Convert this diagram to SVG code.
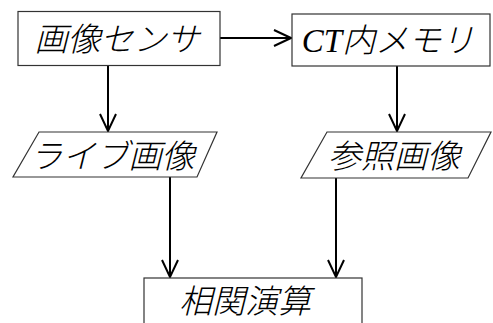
<svg xmlns="http://www.w3.org/2000/svg" width="493" height="323" viewBox="0 0 493 323">
<style>
.box{fill:#fff;stroke:#333;stroke-width:1.2}
.lbl{font-family:"Liberation Serif","Noto Sans CJK JP",serif;font-style:italic;font-weight:300;font-size:33px;fill:#000;text-anchor:middle}
.conn{fill:none;stroke:#000;stroke-width:2}
</style>
<defs>
<marker id="ah" markerUnits="userSpaceOnUse" viewBox="-18 -9 20 18" refX="0" refY="0" markerWidth="20" markerHeight="18" orient="auto">
<path d="M-17,-8 L0,0 L-17,8" fill="none" stroke="#000" stroke-width="2"/>
</marker>
</defs>
<rect width="493" height="323" fill="#fff"/>
<g id="connectors">
<line class="conn" x1="220" y1="38" x2="291" y2="38" marker-end="url(#ah)"/>
<line class="conn" x1="108" y1="66" x2="108" y2="131" marker-end="url(#ah)"/>
<line class="conn" x1="397" y1="66" x2="397" y2="131" marker-end="url(#ah)"/>
<line class="conn" x1="170" y1="177" x2="170" y2="277" marker-end="url(#ah)"/>
<line class="conn" x1="336" y1="178" x2="336" y2="277" marker-end="url(#ah)"/>
</g>
<g id="sensor">
<rect class="box" x="18" y="11.5" width="202" height="54"/>
<text class="lbl" x="117" y="51">画像センサ</text>
</g>
<g id="memory">
<rect class="box" x="292" y="14" width="198" height="52"/>
<text class="lbl" x="388" y="52">CT内メモリ</text>
</g>
<g id="live">
<polygon class="box" points="39,132 217,132 197,177 13,177"/>
<text class="lbl" x="112" y="168">ライブ画像</text>
</g>
<g id="ref">
<polygon class="box" points="327,132 491,132 468,178 301,178"/>
<text class="lbl" x="394" y="168">参照画像</text>
</g>
<g id="corr">
<rect class="box" x="144" y="278" width="218" height="60"/>
<text class="lbl" x="245" y="313">相関演算</text>
</g>
</svg>
